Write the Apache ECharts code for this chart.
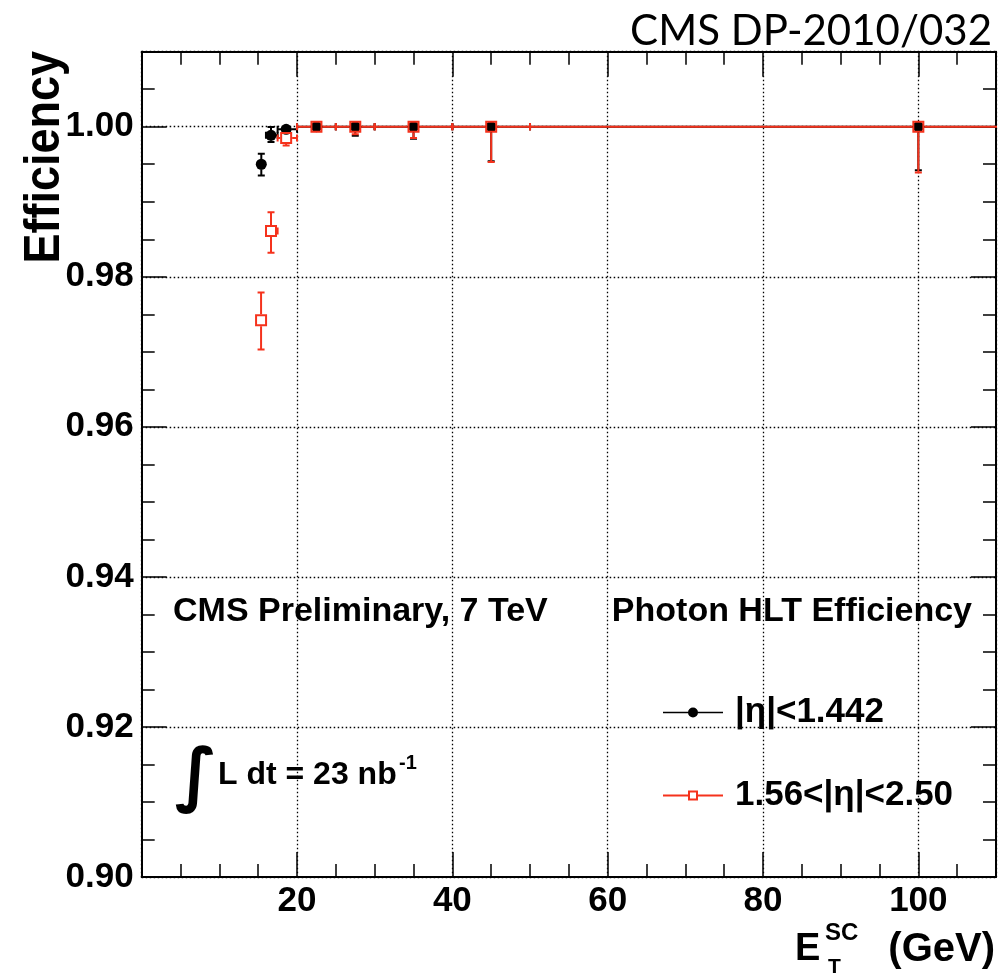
<!DOCTYPE html>
<html>
<head>
<meta charset="utf-8">
<script src="https://cdn.jsdelivr.net/npm/echarts@6/dist/echarts.min.js"></script>
<style>
html,body{margin:0;padding:0;background:#fff;}
#chart{width:1006px;height:976px;}
</style>
</head>
<body>
<div id="chart"></div>
<script>
// ---------------- data ----------------
const seriesNames = ['|η|<1.442', '1.56<|η|<2.50'];

// barrel (black, filled circles)
const barrelX   = [15.4, 16.65, 18.6, 22.5, 27.5, 35, 45, 100];
const barrelY   = [0.9950, 0.99885, 0.99965, 1.0, 1.0, 1.0, 1.0, 1.0];
const barrelExl = [0.4, 0.65, 1.1, 2.5, 2.5, 5, 5, 50];
const barrelExh = [0.6, 0.85, 1.4, 2.5, 2.5, 5, 5, 50];
const barrelEyl = [0.0015, 0.0009, 0.0004, 0.0002, 0.0012, 0.0016, 0.0046, 0.0058];
const barrelEyh = [0.0014, 0.0011, 0.00035, 0, 0, 0, 0, 0];

// endcap (red, open squares)
const endcapX   = [15.37, 16.65, 18.6, 22.5, 27.5, 35, 45, 100];
const endcapY   = [0.9742, 0.9861, 0.9985, 1.0, 1.0, 1.0, 1.0, 1.0];
const endcapExl = [0.37, 0.65, 1.1, 2.5, 2.5, 5, 5, 50];
const endcapExh = [0.63, 0.85, 1.4, 2.5, 2.5, 5, 5, 50];
const endcapEyl = [0.0039, 0.0029, 0.0010, 0.0002, 0.0010, 0.0015, 0.0047, 0.0061];
const endcapEyh = [0.0037, 0.0025, 0.0015, 0, 0, 0, 0, 0];

// axes
const xMin = 0, xMax = 110, xMajor = 20, xMinor = 5;
const yMin = 0.90, yMax = 1.01, yMajor = 0.02, yMinor = 0.005;

// texts
const titleText = 'CMS DP-2010/032';
const yTitle = 'Efficiency';
const leftLabel = 'CMS Preliminary, 7 TeV';
const rightLabel = 'Photon HLT Efficiency';
const lumiText = 'L dt = 23 nb';
const lumiExp = '-1';

// ---------------- style ----------------
const FONT = "'Liberation Sans', Arial, Helvetica, sans-serif";
const RED = '#f5321c';
const GRID = {left: 141.7, right: 10, top: 51.7, bottom: 99};

function mkData(xs, ys, exl, exh, eyl, eyh) {
  return xs.map((x, i) => [x, ys[i], exl[i], exh[i], eyl[i], eyh[i]]);
}
const barrelData = mkData(barrelX, barrelY, barrelExl, barrelExh, barrelEyl, barrelEyh);
const endcapData = mkData(endcapX, endcapY, endcapExl, endcapExh, endcapEyl, endcapEyh);

function errRenderer(half, color, width) {
  const cap = 3.5;
  return function (params, api) {
    const x = api.value(0), y = api.value(1);
    const c = api.coord([x, y]);
    const xl = api.coord([x - api.value(2), y])[0];
    const xh = api.coord([x + api.value(3), y])[0];
    const yl = api.coord([x, y - api.value(4)])[1];
    const yh = api.coord([x, y + api.value(5)])[1];
    const st = {stroke: color, lineWidth: width};
    const ch = [];
    function seg(x1, y1, x2, y2) {
      ch.push({type: 'line', shape: {x1, y1, x2, y2}, style: st});
    }
    if (c[1] - yh > half) { seg(c[0], c[1] - half, c[0], yh); seg(c[0] - cap, yh, c[0] + cap, yh); }
    if (yl - c[1] > half) { seg(c[0], c[1] + half, c[0], yl); seg(c[0] - cap, yl, c[0] + cap, yl); }
    if (c[0] - xl > half) { seg(c[0] - half, c[1], xl, c[1]); seg(xl, c[1] - cap, xl, c[1] + cap); }
    if (xh - c[0] > half) { seg(c[0] + half, c[1], xh, c[1]); seg(xh, c[1] - cap, xh, c[1] + cap); }
    return {type: 'group', children: ch};
  };
}

function xAxis(grid, pos, interval, tickLen, labels, split, line) {
  return {
    type: 'value', gridIndex: grid, position: pos, min: xMin, max: xMax, interval: interval,
    axisLine: {show: line, onZero: false, lineStyle: {color: '#000', width: 2}},
    axisTick: {show: true, inside: true, length: tickLen, lineStyle: {color: '#000', width: 1.5}},
    axisLabel: {show: labels, showMinLabel: false, showMaxLabel: false, margin: 7,
      color: '#000', fontFamily: FONT, fontWeight: 'bold', fontSize: 35},
    splitLine: {show: split, lineStyle: {color: '#000', width: 1.3, type: [1.5, 2.5]}}
  };
}
function yAxis(grid, pos, interval, tickLen, labels, split, line) {
  return {
    type: 'value', gridIndex: grid, position: pos, min: yMin, max: yMax, interval: interval,
    axisLine: {show: line, onZero: false, lineStyle: {color: '#000', width: 2}},
    axisTick: {show: true, inside: true, length: tickLen, lineStyle: {color: '#000', width: 1.5}},
    axisLabel: {show: labels, showMaxLabel: false, margin: 8,
      formatter: v => v.toFixed(2),
      color: '#000', fontFamily: FONT, fontWeight: 'bold', fontSize: 35},
    splitLine: {show: split, lineStyle: {color: '#000', width: 1.3, type: [1.5, 2.5]}}
  };
}

const blackIcon = 'path://M0,4.25L60,4.25L60,5.75L0,5.75Z M25,5A5,5 0 1,1 35,5A5,5 0 1,1 25,5Z';
const redIcon = 'path://M0,4L25,4L25,6L0,6Z M35,4L60,4L60,6L35,6Z M25,0L35,0L35,10L25,10Z M27,2L27,8L33,8L33,2Z';

const chart = echarts.init(document.getElementById('chart'), null, {renderer: 'canvas'});
const option = {
  backgroundColor: '#fff',
  animation: false,
  grid: [
    Object.assign({outerBoundsMode: 'none', containLabel: false}, GRID),
    Object.assign({outerBoundsMode: 'none', containLabel: false}, GRID)
  ],
  xAxis: [
    xAxis(0, 'bottom', xMajor, 25, true, true, true),
    xAxis(0, 'top', xMajor, 25, false, false, true),
    xAxis(1, 'bottom', xMinor, 13, false, false, false),
    xAxis(1, 'top', xMinor, 13, false, false, false)
  ],
  yAxis: [
    yAxis(0, 'left', yMajor, 25, true, true, true),
    yAxis(0, 'right', yMajor, 25, false, false, true),
    yAxis(1, 'left', yMinor, 13, false, false, false),
    yAxis(1, 'right', yMinor, 13, false, false, false)
  ],
  legend: {
    orient: 'vertical', left: 663, top: 695, padding: 0, itemWidth: 60, itemHeight: 10, itemGap: 48,
    selectedMode: false,
    textStyle: {color: '#000', fontFamily: FONT, fontWeight: 'bold', fontSize: 35, padding: [0, 0, 0, 7]},
    data: [
      {name: seriesNames[0], icon: blackIcon, itemStyle: {color: '#000', borderWidth: 0}},
      {name: seriesNames[1], icon: redIcon, itemStyle: {color: RED, borderWidth: 0}}
    ]
  },
  series: [
    {type: 'custom', name: 'barrel-err', xAxisIndex: 0, yAxisIndex: 0, clip: true, z: 2,
      renderItem: errRenderer(5, '#000', 2), encode: {x: 0, y: 1}, data: barrelData},
    {type: 'custom', name: 'endcap-err', xAxisIndex: 0, yAxisIndex: 0, clip: true, z: 3,
      renderItem: errRenderer(6, RED, 2), encode: {x: 0, y: 1}, data: endcapData},
    {type: 'scatter', name: seriesNames[0], xAxisIndex: 0, yAxisIndex: 0, z: 4,
      symbol: 'circle', symbolSize: 11, itemStyle: {color: '#000', opacity: 1},
      data: barrelX.map((x, i) => [x, barrelY[i]])},
    {type: 'scatter', name: seriesNames[1], xAxisIndex: 0, yAxisIndex: 0, z: 5,
      symbol: 'rect', symbolSize: 10,
      itemStyle: {color: 'rgba(0,0,0,0)', borderColor: RED, borderWidth: 2, opacity: 1},
      data: endcapX.map((x, i) => [x, endcapY[i]])}
  ],
  graphic: [
    {type: 'text', x: 992, y: 31, style: {text: titleText, fill: '#000',
      font: "normal 42px Lato, 'Open Sans', sans-serif", align: 'right', textAlign: 'right', verticalAlign: 'middle', textVerticalAlign: 'middle'}},
    {type: 'text', x: 45, y: 51, rotation: Math.PI / 2, scaleX: 0.9, style: {text: yTitle, fill: '#000',
      font: "bold 50px " + FONT, align: 'right', textAlign: 'right', verticalAlign: 'middle', textVerticalAlign: 'middle'}},
    {type: 'text', x: 173, y: 612, style: {text: leftLabel, fill: '#000',
      font: "bold 34px " + FONT, align: 'left', textAlign: 'left', verticalAlign: 'middle', textVerticalAlign: 'middle'}},
    {type: 'text', x: 972, y: 612, style: {text: rightLabel, fill: '#000',
      font: "bold 34px " + FONT, align: 'right', textAlign: 'right', verticalAlign: 'middle', textVerticalAlign: 'middle'}},
    {type: 'text', x: 196, y: 780, style: {text: '∫', fill: '#000',
      font: "bold 70px 'DejaVu Sans', sans-serif", align: 'center', textAlign: 'center', verticalAlign: 'middle', textVerticalAlign: 'middle'}},
    {type: 'text', x: 218, y: 775, style: {text: lumiText, fill: '#000',
      font: "bold 32px " + FONT, align: 'left', textAlign: 'left', verticalAlign: 'middle', textVerticalAlign: 'middle'}},
    {type: 'text', x: 399, y: 763, style: {text: lumiExp, fill: '#000',
      font: "bold 20px " + FONT, align: 'left', textAlign: 'left', verticalAlign: 'middle', textVerticalAlign: 'middle'}},
    // x-axis title: E_T^SC (GeV)
    {type: 'text', x: 795, y: 950, style: {text: 'E', fill: '#000',
      font: "bold 38px " + FONT, align: 'left', textAlign: 'left', verticalAlign: 'middle', textVerticalAlign: 'middle'}},
    {type: 'text', x: 825, y: 933, style: {text: 'SC', fill: '#000',
      font: "bold 24px " + FONT, align: 'left', textAlign: 'left', verticalAlign: 'middle', textVerticalAlign: 'middle'}},
    {type: 'text', x: 828, y: 967, style: {text: 'T', fill: '#000',
      font: "bold 21px " + FONT, align: 'left', textAlign: 'left', verticalAlign: 'middle', textVerticalAlign: 'middle'}},
    {type: 'text', x: 995, y: 950, style: {text: '(GeV)', fill: '#000',
      font: "bold 40px " + FONT, align: 'right', textAlign: 'right', verticalAlign: 'middle', textVerticalAlign: 'middle'}}
  ]
};
chart.setOption(option);
</script>
</body>
</html>
